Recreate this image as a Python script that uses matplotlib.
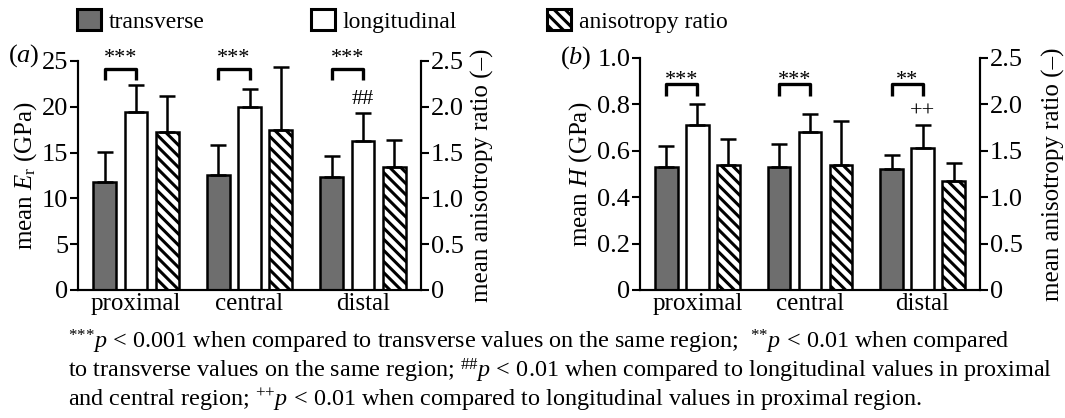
import numpy as np
import matplotlib
matplotlib.use("Agg")
import matplotlib.pyplot as plt
import matplotlib.patches as mpatches

plt.rcParams['font.family'] = ['Liberation Serif', 'DejaVu Serif']
plt.rcParams['mathtext.fontset'] = 'custom'
plt.rcParams['mathtext.rm'] = 'Liberation Serif'
plt.rcParams['mathtext.it'] = 'Liberation Serif:italic'
plt.rcParams['mathtext.bf'] = 'Liberation Serif:bold'
plt.rcParams['hatch.linewidth'] = 2.2

# data
regions = ['proximal', 'central', 'distal']

# (a) reduced modulus, GPa
Er_trans = [11.8, 12.6, 12.3]
Er_trans_sd = [3.3, 3.2, 2.3]
Er_long = [19.4, 20.0, 16.3]
Er_long_sd = [3.0, 1.9, 3.0]
Er_ratio = [1.72, 1.75, 1.34]
Er_ratio_sd = [0.40, 0.68, 0.30]

# (b) hardness, GPa
H_trans = [0.53, 0.53, 0.52]
H_trans_sd = [0.09, 0.10, 0.06]
H_long = [0.71, 0.68, 0.61]
H_long_sd = [0.09, 0.08, 0.10]
H_ratio = [1.35, 1.35, 1.17]
H_ratio_sd = [0.28, 0.47, 0.20]

Er_ticks = [0, 5, 10, 15, 20, 25]
H_ticks = [0, 0.2, 0.4, 0.6, 0.8, 1.0]
H_ticklabels = ['0', '0.2', '0.4', '0.6', '0.8', '1.0']
ratio_ticks = [0, 0.5, 1.0, 1.5, 2.0, 2.5]
ratio_ticklabels = ['0', '0.5', '1.0', '1.5', '2.0', '2.5']

Er_stars = ['***', '***', '***']
H_stars = ['***', '***', '**']

footnote = [
    r"$^{{*}{*}{*}}p\,{<}\,0.001$ when compared to transverse values on the same region;  $^{{*}{*}}p\,{<}\,0.01$ when compared",
    r"to transverse values on the same region; $^{\#\#}p\,{<}\,0.01$ when compared to longitudinal values in proximal",
    r"and central region; $^{{+}{+}}p\,{<}\,0.01$ when compared to longitudinal values in proximal region.",
]

FS = 17
TICK_FS = 19
grey = '#6e6e6e'
lw = 1.8
off = 0.275
w = 0.2

fig = plt.figure(figsize=(10.65, 4.18), dpi=100)


def panel(rect, trans, trans_sd, long_, long_sd, ratio, ratio_sd, ymax, yticks, yticklabels,
          ylabel, stars, br, mark, mark_y, tag, tag_xy, rpad):
    ax = fig.add_axes(rect)
    ax2 = ax.twinx()
    x = np.arange(len(regions))
    ekw = dict(elinewidth=lw, capthick=lw, ecolor='black')
    zero = np.zeros(len(x))
    ax.bar(x - off, trans, w, color=grey, edgecolor='black', linewidth=lw,
           yerr=[zero, trans_sd], capsize=6, error_kw=ekw)
    ax.bar(x, long_, w, color='white', edgecolor='black', linewidth=lw,
           yerr=[zero, long_sd], capsize=6, error_kw=ekw)
    ax2.bar(x + off, ratio, w, color='white', edgecolor='black', linewidth=lw, hatch='\\\\\\',
            yerr=[zero, ratio_sd], capsize=6, error_kw=ekw)

    ax.set_ylim(0, ymax)
    ax2.set_ylim(0, 2.5)
    ax.set_xlim(-0.51, 2.51)
    ax.set_yticks(yticks)
    ax.set_yticklabels(yticklabels)
    ax2.set_yticks(ratio_ticks)
    ax2.set_yticklabels(ratio_ticklabels)
    ax.set_xticks(x)
    ax.set_xticklabels(regions)
    for a in (ax, ax2):
        a.spines['top'].set_visible(False)
        for s in a.spines.values():
            s.set_linewidth(1.5)
        a.tick_params(labelsize=TICK_FS, width=1.5, length=6, pad=1)
    ax.tick_params(axis='x', length=0, pad=2, labelsize=18)
    ax.set_ylabel(ylabel, fontsize=FS + 1, labelpad=2)
    ax2.set_ylabel('mean anisotropy ratio (–)', fontsize=FS + 1, labelpad=rpad)

    # significance brackets
    top, leg, st = br
    for i in range(len(x)):
        ax.plot([x[i] - off, x[i] - off, x[i], x[i]], [leg, top, top, leg], color='black',
                lw=2.4, clip_on=False, solid_capstyle='butt')
        ax.text(x[i] - off / 2, st, stars[i], ha='center', va='center', fontsize=16,
                clip_on=False)
    ax.text(x[2], mark_y, mark, ha='center', va='center', fontsize=16)
    fig.text(tag_xy[0], tag_xy[1], tag, fontsize=TICK_FS, ha='left', va='center')
    return ax


panel([78 / 1065, 1 - 290 / 418, (421 - 78) / 1065, (290 - 61) / 418],
      Er_trans, Er_trans_sd, Er_long, Er_long_sd, Er_ratio, Er_ratio_sd,
      25, Er_ticks, [str(t) for t in Er_ticks], r'mean $E_\mathrm{r}$ (GPa)',
      Er_stars, (24.1, 22.9, 25.3), '##', 20.8, r'($\mathit{a}$)', (8 / 1065, 1 - 56 / 418), 5)

panel([640 / 1065, 1 - 290 / 418, (980 - 640) / 1065, (290 - 58) / 418],
      H_trans, H_trans_sd, H_long, H_long_sd, H_ratio, H_ratio_sd,
      1.0, H_ticks, H_ticklabels, r'mean $\mathit{H}$ (GPa)',
      H_stars, (0.888, 0.835, 0.905), '++', 0.765, r'($\mathit{b}$)', (560 / 1065, 1 - 58 / 418), 14)

# legend across the top
handles = [
    mpatches.Patch(facecolor=grey, edgecolor='black', linewidth=2.2, label='transverse'),
    mpatches.Patch(facecolor='white', edgecolor='black', linewidth=2.2, label='longitudinal'),
    mpatches.Patch(facecolor='white', edgecolor='black', linewidth=2.2, hatch='\\\\\\', label='anisotropy ratio'),
]
for h, xpos in zip(handles, [77, 311, 547]):
    fig.legend(handles=[h], loc='center left', bbox_to_anchor=(xpos / 1065, 1 - 21 / 418),
               frameon=False, fontsize=FS, handlelength=1.0, handleheight=1.0,
               handletextpad=0.35, borderpad=0, borderaxespad=0)

for i, line in enumerate(footnote):
    fig.text(68 / 1065, 1 - (342 + 29 * i) / 418, line, fontsize=17.4, ha='left', va='center')

fig.savefig('out.png', dpi=100)
